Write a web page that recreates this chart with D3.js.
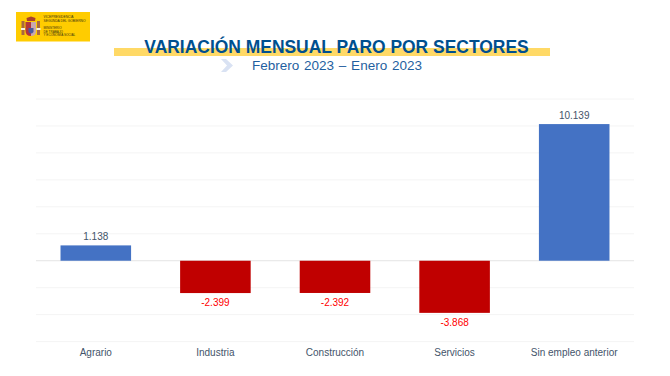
<!DOCTYPE html>
<html><head><meta charset="utf-8">
<script src="https://cdn.jsdelivr.net/npm/d3@7"></script>
<style>html,body{margin:0;padding:0;background:#fff}svg{display:block}text{font-family:"Liberation Sans",Arial,sans-serif}</style>
</head><body><svg id="c" width="670" height="376"></svg>
<script>
const categories=["Agrario","Industria","Construcción","Servicios","Sin empleo anterior"];
const values=[1138,-2399,-2392,-3868,10139];
const valueLabels=["1.138","-2.399","-2.392","-3.868","10.139"];
const gridTicks=[-6000,-4000,-2000,2000,4000,6000,8000,10000,12000];
const logoLines=["VICEPRESIDENCIA","SEGUNDA DEL GOBIERNO"];
const logoLines2=["MINISTERIO","DE TRABAJO","Y ECONOMÍA SOCIAL"];

const svg=d3.select("#c");
const x=d3.scaleBand().domain(categories).range([36,634]).paddingInner(0.41).paddingOuter(0.205);
const y=d3.scaleLinear().domain([-6000,12000]).range([341.6,99]);

// logo
const logo=svg.append("g");
logo.append("rect").attr("x",16).attr("y",12).attr("width",74).attr("height",29.5).attr("fill","#ffcc00");
logo.append("rect").attr("x",21.5).attr("y",21).attr("width",3).attr("height",14).attr("fill","#a9683f");
logo.append("rect").attr("x",37).attr("y",21).attr("width",3).attr("height",14).attr("fill","#a9683f");
logo.append("rect").attr("x",21).attr("y",28).attr("width",4).attr("height",2).attr("fill","#f4f0e6");
logo.append("rect").attr("x",36.5).attr("y",28).attr("width",4).attr("height",2).attr("fill","#f4f0e6");
logo.append("path").attr("d","M25.5 22h5.5v14q-5.5 0-5.5-5z").attr("fill","#b2343c");
logo.append("path").attr("d","M31 22h5v9q0 5-5 5z").attr("fill","#c9a7ae");
logo.append("path").attr("d","M28.5 28h5v4q-2.5 3-5 0z").attr("fill","#4a5a9c");
logo.append("path").attr("d","M27 21l-.5-3l4.5-1.5l4.5 1.5l-.5 3z").attr("fill","#a8402c");
logoLines.forEach((t,i)=>logo.append("text").attr("x",43.5).attr("y",18+i*4.2).attr("font-size",3.3).attr("fill","#3a3210").text(t));
logoLines2.forEach((t,i)=>logo.append("text").attr("x",43.5).attr("y",29+i*3.7).attr("font-size",3.1).attr("fill","#3a3210").text(t));

// title
svg.append("rect").attr("x",114).attr("y",48).attr("width",436).attr("height",8).attr("fill","#ffd966");
svg.append("text").attr("x",336.5).attr("y",52.5).attr("text-anchor","middle").attr("font-size",17.45).attr("font-weight","bold").attr("fill","#004f8f").text("VARIACIÓN MENSUAL PARO POR SECTORES");
svg.append("path").attr("d","M221 59h5l7 6.5l-7 6.5h-5l6-6.5z").attr("fill","#d9e2f3");
svg.append("text").attr("x",337).attr("y",69.5).attr("text-anchor","middle").attr("font-size",13.5).attr("word-spacing",1).attr("fill","#1f5fa0").text("Febrero 2023 – Enero 2023");

// grid
svg.append("g").selectAll("line").data(gridTicks).join("line")
 .attr("x1",36).attr("x2",634).attr("y1",d=>y(d)).attr("y2",d=>y(d)).attr("stroke","#f4f4f4").attr("stroke-width",1);
svg.append("line").attr("x1",36).attr("x2",634).attr("y1",y(0)).attr("y2",y(0)).attr("stroke","#e4e4e4").attr("stroke-width",1);

// bars
svg.append("g").selectAll("rect").data(values).join("rect")
 .attr("x",(d,i)=>x(categories[i])).attr("width",x.bandwidth())
 .attr("y",d=>y(Math.max(d,0))).attr("height",d=>Math.abs(y(d)-y(0)))
 .attr("fill",d=>d<0?"#c00000":"#4472c4");

// value labels
svg.append("g").selectAll("text").data(values).join("text")
 .attr("x",(d,i)=>x(categories[i])+x.bandwidth()/2)
 .attr("y",d=>d<0?y(d)+13:y(d)-5)
 .attr("text-anchor","middle").attr("font-size",10).attr("fill",d=>d<0?"#ff0000":"#44546a")
 .text((d,i)=>valueLabels[i]);

// category labels
svg.append("g").selectAll("text").data(categories).join("text")
 .attr("x",d=>x(d)+x.bandwidth()/2).attr("y",356)
 .attr("text-anchor","middle").attr("font-size",10).attr("fill","#44546a").text(d=>d);
</script></body></html>
